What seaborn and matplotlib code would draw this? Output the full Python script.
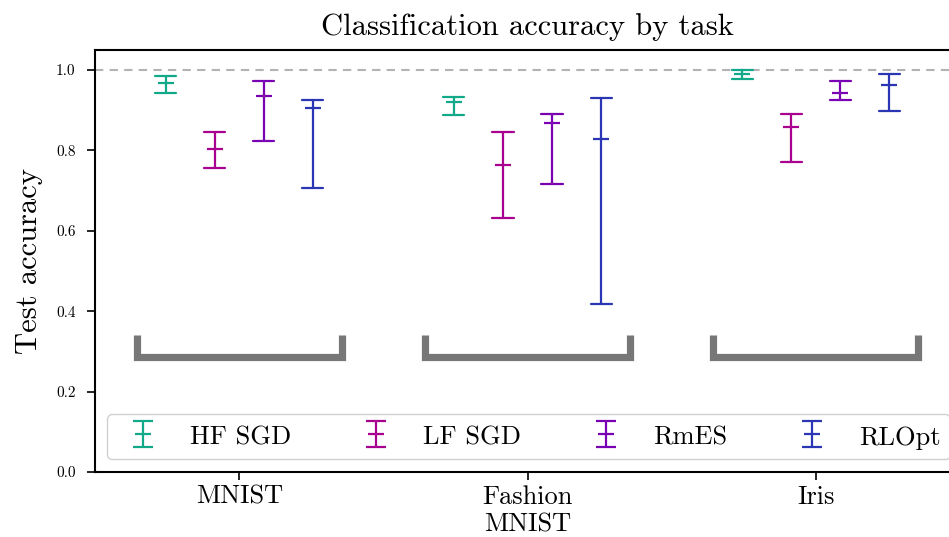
import numpy as np
import pandas as pd
import matplotlib
matplotlib.use("Agg")
import matplotlib.pyplot as plt
import seaborn as sns

# Tasks and methods
tasks = ["MNIST", "Fashion\nMNIST", "Iris"]
methods = ["HF SGD", "LF SGD", "RmES", "RLOpt"]
colors = ["#12a88a", "#a8008f", "#7a00b3", "#2b36b5"]

# Test accuracy per task: low, median, high (one row per method)
acc_low = {
    "HF SGD": [0.944, 0.889, 0.978],
    "LF SGD": [0.757, 0.633, 0.772],
    "RmES":   [0.823, 0.717, 0.926],
    "RLOpt":  [0.707, 0.417, 0.898],
}
acc_median = {
    "HF SGD": [0.969, 0.920, 0.990],
    "LF SGD": [0.803, 0.764, 0.859],
    "RmES":   [0.936, 0.868, 0.942],
    "RLOpt":  [0.906, 0.828, 0.963],
}
acc_high = {
    "HF SGD": [0.986, 0.934, 0.999],
    "LF SGD": [0.846, 0.847, 0.891],
    "RmES":   [0.972, 0.891, 0.973],
    "RLOpt":  [0.925, 0.930, 0.991],
}

y_ticks = [0.0, 0.2, 0.4, 0.6, 0.8, 1.0]
bracket_level = 0.286
bracket_height = 0.055
bracket_half = 0.356

rows = []
for m in methods:
    for i, t in enumerate(tasks):
        for v in (acc_low[m][i], acc_median[m][i], acc_high[m][i]):
            rows.append({"task": t, "method": m, "accuracy": v})
df = pd.DataFrame(rows)

sns.set_theme(style="ticks")
plt.rcParams["font.family"] = "serif"
plt.rcParams["font.serif"] = ["cmr10", "DejaVu Serif"]
plt.rcParams["mathtext.fontset"] = "cm"
plt.rcParams["axes.formatter.use_mathtext"] = True
plt.rcParams["axes.unicode_minus"] = False
for key in ["text.color", "axes.labelcolor", "xtick.color", "ytick.color"]:
    plt.rcParams[key] = "black"

fig = plt.figure(figsize=(9.49, 5.37), dpi=100)
ax = fig.add_axes([95 / 949, 65 / 537, 865 / 949, 422 / 537])

palette = dict(zip(methods, colors))
sns.pointplot(
    data=df, x="task", y="accuracy", hue="method",
    order=tasks, hue_order=methods, palette=palette,
    estimator="median", errorbar=("pi", 100),
    dodge=0.51, linestyle="none", markers="_",
    markersize=11, markeredgewidth=1.6,
    capsize=0.073, err_kws={"linewidth": 1.6},
    ax=ax,
)

# Reference line at perfect accuracy
ax.axhline(1.0, color="#b3b3b3", linestyle=(0, (4, 3)), linewidth=1.5, zorder=0)

# Grey brackets under each task group
for i in range(len(tasks)):
    xs = [i - bracket_half, i - bracket_half, i + bracket_half, i + bracket_half]
    ys = [bracket_level + bracket_height, bracket_level, bracket_level,
          bracket_level + bracket_height]
    ax.plot(xs, ys, color="#777777", linewidth=5.2,
            solid_joinstyle="miter", solid_capstyle="butt", zorder=1)

ax.set_xlim(-0.5, 2.5)
ax.set_ylim(0, 1.05)
ax.set_yticks(y_ticks)
ax.set_yticklabels([f"{v:.1f}" for v in y_ticks])
ax.tick_params(axis="y", labelsize=11, length=6, width=1.2, pad=8)
ax.tick_params(axis="x", labelsize=19, length=6, width=1.2, pad=3.5)
ax.set_xlabel("")
ax.set_ylabel("Test accuracy", fontsize=22, labelpad=9)
ax.set_title("Classification accuracy by task", fontsize=22, pad=11)
for s in ["left", "top", "bottom", "right"]:
    ax.spines[s].set_linewidth(1.5)
    ax.spines[s].set_color("black")

# Legend with errorbar-style handles
leg = ax.get_legend()
if leg is not None:
    leg.remove()
handles = []
for m, c in zip(methods, colors):
    h = ax.errorbar([np.nan], [np.nan], yerr=[[np.nan], [np.nan]],
                    color=c, marker="_", markersize=11, markeredgewidth=1.6,
                    linestyle="none", elinewidth=1.6, capsize=7.5, capthick=1.6,
                    label=m)
    handles.append(h)
ax.legend(handles=handles, labels=methods, loc="lower left",
          bbox_to_anchor=(0.0139, 0.0308), borderaxespad=0, ncol=4, fontsize=19,
          frameon=True, fancybox=True, edgecolor="#d0d0d0", framealpha=1,
          handlelength=2.0, handleheight=1.05, handletextpad=0.8,
          columnspacing=2.2, borderpad=0.35)

fig.savefig("out.png", dpi=100)
